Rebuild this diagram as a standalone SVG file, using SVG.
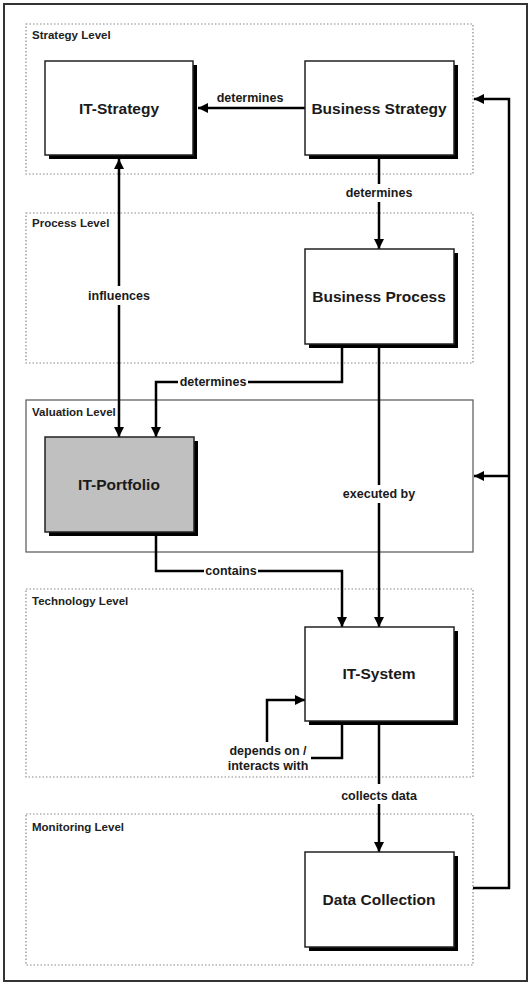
<svg xmlns="http://www.w3.org/2000/svg" width="530" height="983" viewBox="0 0 530 983">
<style>
  .frame{fill:#fff;stroke:#333;stroke-width:2}
  .level{fill:none;stroke:#888;stroke-width:1.2;stroke-dasharray:1.5 2}
  .levelsolid{fill:none;stroke:#555;stroke-width:1.2}
  .lvl{font-family:"Liberation Sans",Arial,sans-serif;font-weight:bold;font-size:11.5px;fill:#222}
  .box{fill:#fff;stroke:#222;stroke-width:1.5}
  .shadow{fill:#000}
  .gray{fill:#c0c0c0}
  .nt{font-family:"Liberation Sans",Arial,sans-serif;font-weight:bold;font-size:15.5px;fill:#1a1a1a;text-anchor:middle}
  .el{font-family:"Liberation Sans",Arial,sans-serif;font-weight:bold;font-size:12.5px;fill:#1a1a1a;text-anchor:middle}
  .c{fill:none;stroke:#000;stroke-width:2.5}
  .a{marker-end:url(#ah)}
</style>
<defs>
  <marker id="ah" markerUnits="userSpaceOnUse" markerWidth="11" markerHeight="11" refX="10" refY="5" orient="auto">
    <path d="M0,0 L10,5 L0,10 z" fill="#000"/>
  </marker>
  <marker id="as" markerUnits="userSpaceOnUse" markerWidth="11" markerHeight="11" refX="0" refY="5" orient="auto">
    <path d="M10,0 L0,5 L10,10 z" fill="#000"/>
  </marker>
</defs>
<rect class="frame" x="4" y="4" width="523" height="977"/>

<g id="levels">
  <rect class="level" x="26" y="24" width="447" height="150"/>
  <text class="lvl" x="32" y="39">Strategy Level</text>
  <rect class="level" x="26" y="213" width="447" height="150"/>
  <text class="lvl" x="32" y="227">Process Level</text>
  <rect class="levelsolid" x="26" y="400" width="447" height="152"/>
  <text class="lvl" x="32" y="416">Valuation Level</text>
  <rect class="level" x="26" y="589" width="447" height="188"/>
  <text class="lvl" x="32" y="605">Technology Level</text>
  <rect class="level" x="26" y="814" width="447" height="151"/>
  <text class="lvl" x="32" y="831">Monitoring Level</text>
</g>

<g id="connectors">
  <path class="c a" d="M305,108 H198"/>
  <text class="el" x="250" y="102">determines</text>

  <path class="c" d="M379,155 V184"/>
  <text class="el" x="379" y="197">determines</text>
  <path class="c a" d="M379,202 V249"/>

  <path class="c" d="M119,159 V286" marker-start="url(#as)"/>
  <text class="el" x="119" y="300">influences</text>
  <path class="c a" d="M119,305 V437"/>

  <path class="c" d="M342,344 V382 H248"/>
  <text class="el" x="213" y="386">determines</text>
  <path class="c a" d="M178,382 H156 V437"/>

  <path class="c" d="M379,344 V485"/>
  <text class="el" x="379" y="498">executed by</text>
  <path class="c a" d="M379,503 V627"/>

  <path class="c" d="M156,532 V571 H204"/>
  <text class="el" x="231" y="575">contains</text>
  <path class="c a" d="M258,571 H342 V627"/>

  <path class="c" d="M342,721 V758 H311"/>
  <text class="el" x="268" y="755">depends on /</text>
  <text class="el" x="268" y="770">interacts with</text>
  <path class="c a" d="M267,742 V700 H305"/>

  <path class="c" d="M379,721 V784"/>
  <text class="el" x="379" y="800">collects data</text>
  <path class="c a" d="M379,804 V852"/>

  <path class="c a" d="M473,888 H509 V99 H474"/>
  <path class="c a" d="M509,476 H474"/>
</g>

<g id="it-strategy">
  <rect class="shadow" x="49" y="65" width="148" height="94"/>
  <rect class="box" x="45" y="61" width="148" height="94"/>
  <text class="nt" x="119" y="114">IT-Strategy</text>
</g>
<g id="business-strategy">
  <rect class="shadow" x="309" y="65" width="149" height="94"/>
  <rect class="box" x="305" y="61" width="149" height="94"/>
  <text class="nt" x="379" y="114">Business Strategy</text>
</g>
<g id="business-process">
  <rect class="shadow" x="309" y="253" width="149" height="95"/>
  <rect class="box" x="305" y="249" width="149" height="95"/>
  <text class="nt" x="379" y="302">Business Process</text>
</g>
<g id="it-portfolio">
  <rect class="shadow" x="49" y="441" width="149" height="95"/>
  <rect class="box gray" x="45" y="437" width="149" height="95"/>
  <text class="nt" x="119" y="490">IT-Portfolio</text>
</g>
<g id="it-system">
  <rect class="shadow" x="309" y="631" width="149" height="94"/>
  <rect class="box" x="305" y="627" width="149" height="94"/>
  <text class="nt" x="379" y="679">IT-System</text>
</g>
<g id="data-collection">
  <rect class="shadow" x="309" y="856" width="149" height="95"/>
  <rect class="box" x="305" y="852" width="149" height="95"/>
  <text class="nt" x="379" y="905">Data Collection</text>
</g>
</svg>
